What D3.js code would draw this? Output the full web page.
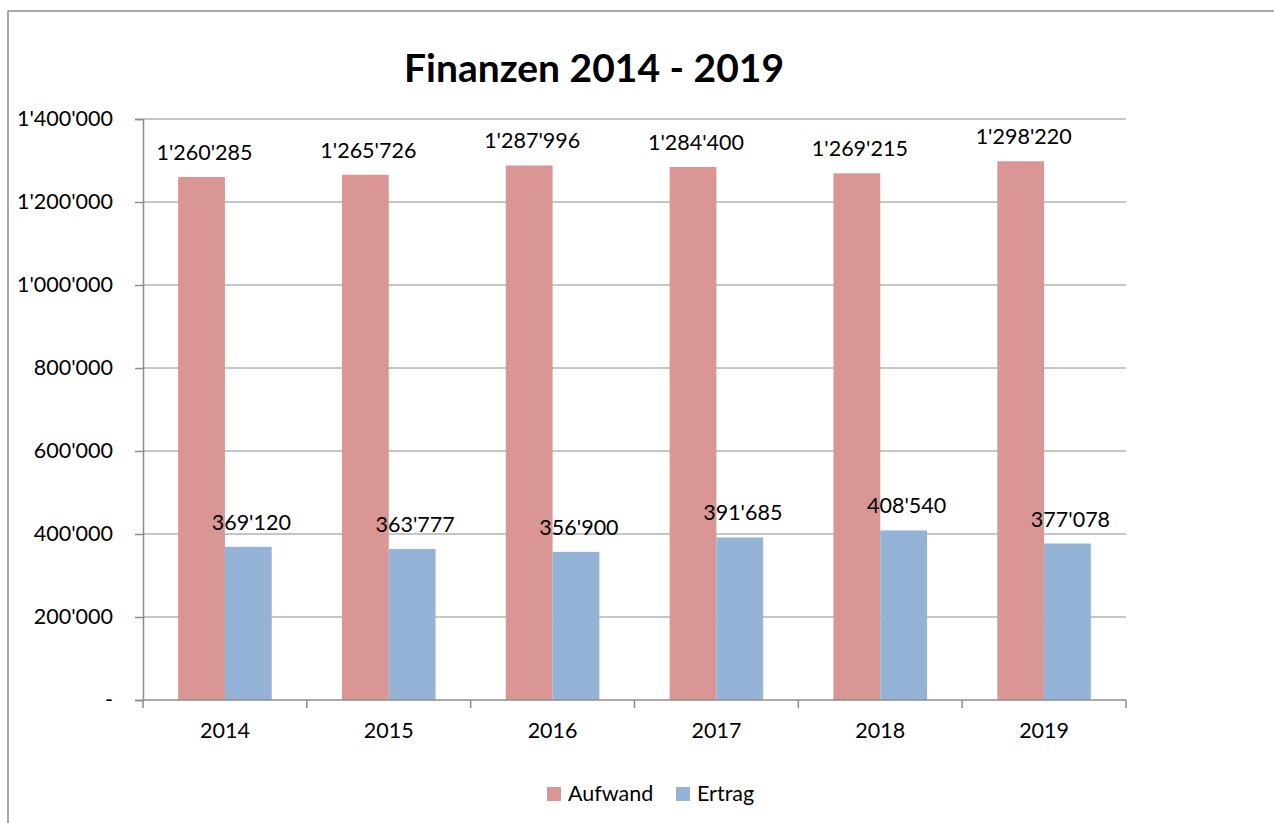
<!DOCTYPE html>
<html>
<head>
<meta charset="utf-8">
<title>Finanzen 2014 - 2019</title>
<script src="https://cdn.jsdelivr.net/npm/d3@7"></script>
<style>
  html, body { margin: 0; padding: 0; background: #fff; }
  svg { display: block; font-family: Lato, 'Open Sans', sans-serif; }
  .grid line { stroke: #8c8c8c; stroke-width: 1; }
  .axis path, .axis line { stroke: #8c8c8c; stroke-width: 1.5; }
  .label { font-size: 21.5px; fill: #000; }
</style>
</head>
<body>
<svg width="1274" height="823"></svg>
<script>
'use strict';

// Data.
const years = ['2014', '2015', '2016', '2017', '2018', '2019'];
const seriesNames = ['Aufwand', 'Ertrag'];
const aufwand = [1260285, 1265726, 1287996, 1284400, 1269215, 1298220];
const ertrag = [369120, 363777, 356900, 391685, 408540, 377078];
const yTicks = [0, 200000, 400000, 600000, 800000, 1000000, 1200000, 1400000];
const colours = ['#d99694', '#95b3d7'];

const margin = { top: 119, right: 148, bottom: 123, left: 143 };
const w = 1274;
const h = 823;

const svg = d3.select('svg');

// Swiss style number formatting: 1'260'285
const locale = d3.formatLocale({ decimal: '.', thousands: "'", grouping: [3], currency: ['', ''] });
const fmt = locale.format(',');

const x = d3.scaleBand()
  .domain(years)
  .range([margin.left, w - margin.right]);

// Two bars per group, gap of about 150% of a bar.
const x1 = d3.scaleBand()
  .domain(seriesNames)
  .range([0, x.bandwidth()])
  .paddingInner(0)
  .paddingOuter(0.75);

const y = d3.scaleLinear()
  .domain([0, 1400000])
  .range([h - margin.bottom, margin.top]);

// Outer chart frame, runs off the right and bottom edge like the picture.
svg.append('rect')
  .attr('x', 8)
  .attr('y', 11)
  .attr('width', w + 10)
  .attr('height', h + 10)
  .attr('fill', 'none')
  .attr('stroke', '#8c8c8c')
  .attr('stroke-width', 1.5);

// Title
svg.append('text')
  .attr('x', 594)
  .attr('y', 82)
  .attr('text-anchor', 'middle')
  .style('font-size', '39px')
  .style('font-weight', 'bold')
  .text('Finanzen 2014 - 2019');

// Gridlines
svg.append('g')
  .attr('class', 'grid')
  .selectAll('line')
  .data(yTicks.filter(t => t > 0))
  .enter()
  .append('line')
  .attr('x1', margin.left)
  .attr('x2', w - margin.right)
  .attr('y1', d => y(d))
  .attr('y2', d => y(d));

// Y axis
const yAxis = svg.append('g')
  .attr('class', 'axis')
  .attr('transform', `translate(${margin.left},0)`)
  .call(d3.axisLeft(y)
    .tickValues(yTicks)
    .tickSize(8)
    .tickPadding(22)
    .tickFormat(d => d === 0 ? '-' : fmt(d)));

yAxis.selectAll('text')
  .attr('class', 'label');
yAxis.attr('font-family', null).attr('font-size', null);

// Bars
const groups = svg.append('g')
  .selectAll('g')
  .data(years)
  .enter()
  .append('g')
  .attr('transform', d => `translate(${x(d)},0)`);

const series = [aufwand, ertrag];

groups.selectAll('rect')
  .data((d, i) => seriesNames.map((s, j) => ({ name: s, value: series[j][i], colour: colours[j] })))
  .enter()
  .append('rect')
  .attr('x', d => x1(d.name))
  .attr('width', x1.bandwidth())
  .attr('y', d => y(d.value))
  .attr('height', d => y(0) - y(d.value))
  .attr('fill', d => d.colour);

// Data labels sit above each bar
groups.selectAll('text')
  .data((d, i) => seriesNames.map((s, j) => ({ name: s, value: series[j][i] })))
  .enter()
  .append('text')
  .attr('class', 'label')
  .attr('text-anchor', 'middle')
  .attr('x', d => x1(d.name) + x1.bandwidth() / 2 + 3)
  .attr('y', d => y(d.value) - 17)
  .text(d => fmt(d.value));

// X axis, ticks between categories
const xAxis = svg.append('g')
  .attr('class', 'axis')
  .attr('transform', `translate(0,${h - margin.bottom})`);

xAxis.append('line')
  .attr('x1', margin.left)
  .attr('x2', w - margin.right);

xAxis.selectAll('line.tick')
  .data(years.concat(['end']))
  .enter()
  .append('line')
  .attr('class', 'tick')
  .attr('x1', (d, i) => margin.left + i * x.step())
  .attr('x2', (d, i) => margin.left + i * x.step())
  .attr('y1', 0)
  .attr('y2', 8);

xAxis.selectAll('text')
  .data(years)
  .enter()
  .append('text')
  .attr('class', 'label')
  .attr('text-anchor', 'middle')
  .attr('x', d => x(d) + x.bandwidth() / 2)
  .attr('y', 38)
  .text(d => d);

// Legend
const legend = svg.append('g')
  .attr('transform', 'translate(547,787)');

const legendItems = legend.selectAll('g')
  .data(seriesNames)
  .enter()
  .append('g')
  .attr('transform', (d, i) => `translate(${i * 129},0)`);

legendItems.append('rect')
  .attr('width', 14)
  .attr('height', 14)
  .attr('fill', (d, i) => colours[i]);

legendItems.append('text')
  .attr('class', 'label')
  .attr('x', 21)
  .attr('y', 14)
  .text(d => d);
</script>
</body>
</html>
